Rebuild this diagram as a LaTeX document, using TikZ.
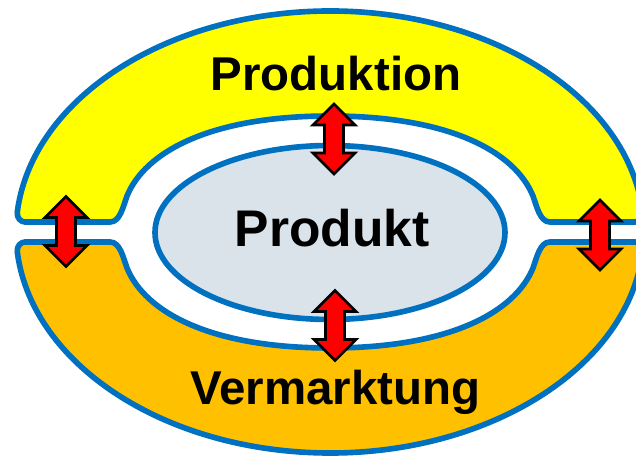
\documentclass[tikz,border=0pt]{standalone}
\usepackage{fontspec}
\setmainfont{Liberation Sans}
\definecolor{ringblue}{HTML}{0070C0}
\definecolor{prodyellow}{HTML}{FFFF00}
\definecolor{vermorange}{HTML}{FFC000}
\definecolor{kerngrey}{HTML}{DAE3EA}

% upper half of the ring, band edge at y=10
\newcommand{\halfring}{(312.7,20) arc[start angle=5.19, end angle=174.81, x radius=314, y radius=221]
  .. controls (-313.5,14) and (-309,10) .. (-305,10) -- (-220,10)
  .. controls (-210,10) and (-207,25) .. (-203,36) .. controls (-185,80) and (-120,116) .. (0,116)
  .. controls (120,116) and (185,80) .. (203,36) .. controls (207,25) and (210,10) .. (220,10)
  -- (305,10) .. controls (309,10) and (313.5,14) .. (312.7,20) -- cycle}
% two-headed block arrow round a coordinate
\newcommand{\dblarrow}[1]{\draw[arrowline] (#1) ++(0,35) -- ++(-21,-21) -- ++(11.5,0) -- ++(0,-28)
  -- ++(-11.5,0) -- ++(21,-21) -- ++(21,21) -- ++(-11.5,0) -- ++(0,28) -- ++(11.5,0) -- cycle;}

\begin{document}
\begin{tikzpicture}[x=0.03cm,y=0.03cm,
  ringline/.style={draw=ringblue,line width=4.8pt},
  arrowline/.style={draw=black,fill=red,line width=2.4pt,line join=miter},
  ringtext/.style={anchor=base,font=\fontsize{40.5}{44}\selectfont\bfseries}]
  \useasboundingbox (-330,-225) rectangle (306,232);
  \clip (-330,-225) rectangle (306,232);
  \filldraw [ringline,fill=prodyellow] \halfring;
  \filldraw [ringline,fill=vermorange,yscale=-1] \halfring;
  \filldraw [ringline,fill=kerngrey] (0,-0.5) ellipse [x radius=175, y radius=87];
  \node [ringtext] (prod) at (6,141) {Produktion};
  \node [ringtext,font=\fontsize{44}{48}\selectfont\bfseries] (kern) at (2,-15) {Produkt};
  \node [ringtext] (verm) at (5.5,-173) {Vermarktung};
  \coordinate (pfeiloben) at (4,93);
  \coordinate (pfeilunten) at (5,-93.5);
  \coordinate (pfeillinks) at (-264,0.5);
  \coordinate (pfeilrechts) at (270,-3);
  \dblarrow{pfeiloben}
  \dblarrow{pfeilunten}
  \dblarrow{pfeillinks}
  \dblarrow{pfeilrechts}
\end{tikzpicture}
\end{document}
